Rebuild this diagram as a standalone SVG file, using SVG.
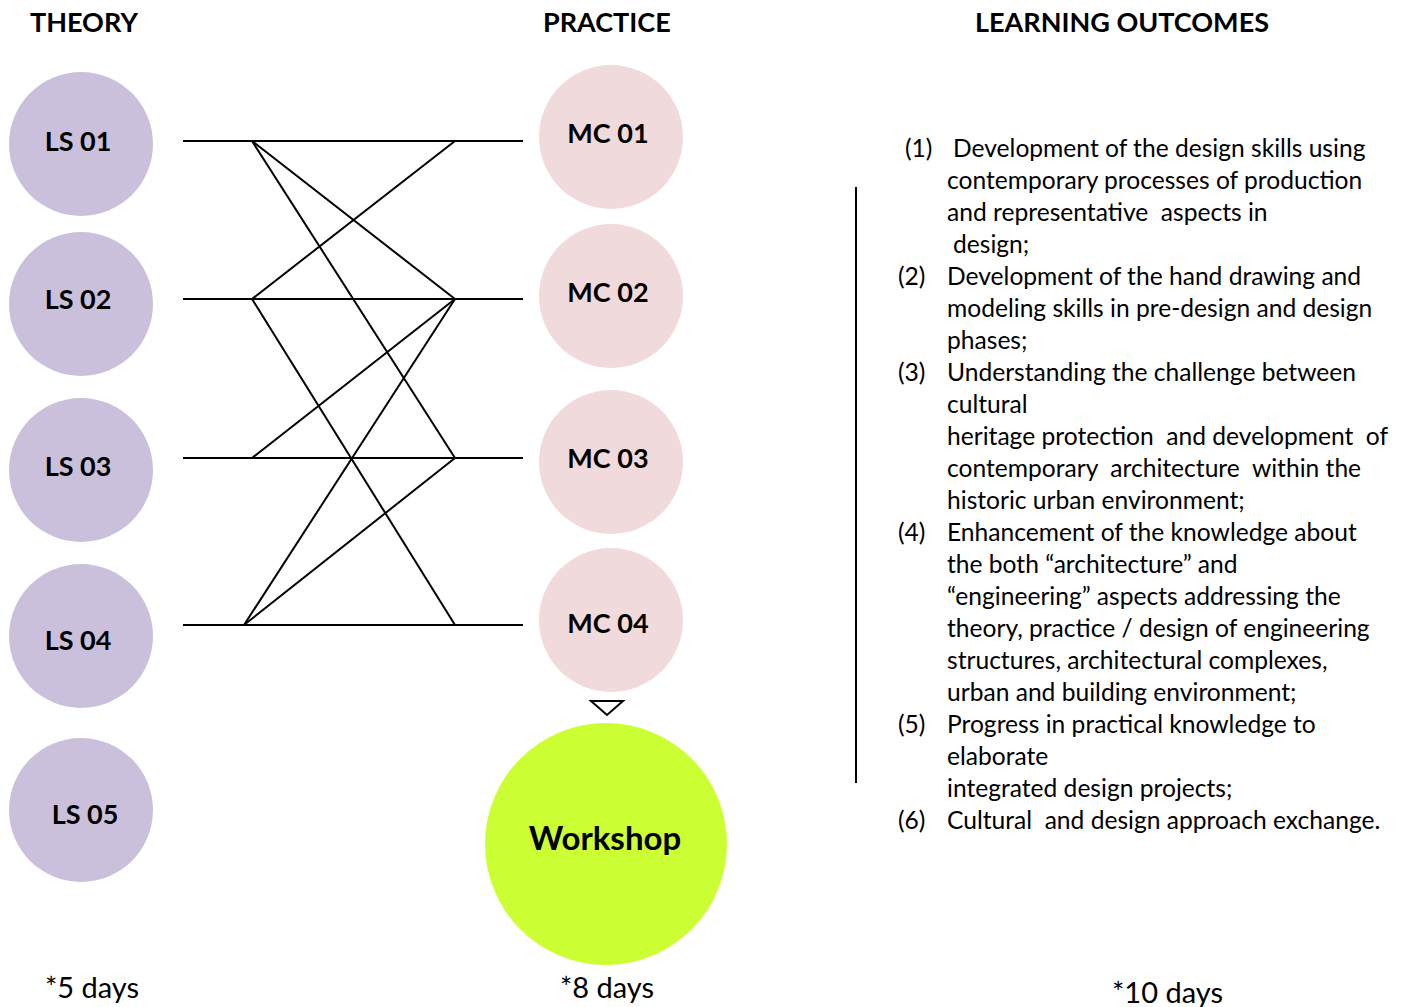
<svg xmlns="http://www.w3.org/2000/svg" width="1404" height="1007" viewBox="0 0 1404 1007">
<style>
.h{font-family:Lato,"Liberation Sans",sans-serif;font-weight:bold;font-size:27px;fill:#000}
.lbl{font-family:Lato,"Liberation Sans",sans-serif;font-weight:bold;font-size:27px;fill:#000;text-anchor:middle}
.ls{fill:#CBC0DB}
.mc{fill:#F0DADB}
.t{font-family:Lato,"Liberation Sans",sans-serif;font-size:24.6px;fill:#000}
.f{font-family:Lato,"Liberation Sans",sans-serif;font-size:29px;fill:#000}
.c line{stroke:#000;stroke-width:2}
</style>
<rect width="1404" height="1007" fill="#fff"/>
<text class="h" x="30" y="32">THEORY</text>
<text class="h" x="543" y="32">PRACTICE</text>
<text class="h" x="975" y="32">LEARNING OUTCOMES</text>

<g id="ls01"><circle class="ls" cx="81" cy="144" r="72"/><text class="lbl" x="78" y="151">LS 01</text></g>
<g id="ls02"><circle class="ls" cx="81" cy="304" r="72"/><text class="lbl" x="78" y="309">LS 02</text></g>
<g id="ls03"><circle class="ls" cx="81" cy="470" r="72"/><text class="lbl" x="78" y="476">LS 03</text></g>
<g id="ls04"><circle class="ls" cx="81" cy="636" r="72"/><text class="lbl" x="78" y="650">LS 04</text></g>
<g id="ls05"><circle class="ls" cx="81" cy="810" r="72"/><text class="lbl" x="85" y="824">LS 05</text></g>

<g id="mc01"><circle class="mc" cx="611" cy="137" r="72"/><text class="lbl" x="608" y="143">MC 01</text></g>
<g id="mc02"><circle class="mc" cx="611" cy="296" r="72"/><text class="lbl" x="608" y="302">MC 02</text></g>
<g id="mc03"><circle class="mc" cx="611" cy="462" r="72"/><text class="lbl" x="608" y="468">MC 03</text></g>
<g id="mc04"><circle class="mc" cx="611" cy="620" r="72"/><text class="lbl" x="608" y="633">MC 04</text></g>
<g id="workshop"><circle cx="606" cy="844" r="121" fill="#CCFF33"/><text class="lbl" x="605" y="850" style="font-size:33px">Workshop</text></g>
<g id="arrow"><polygon points="591,701 623,701 607,715" fill="#fff" stroke="#000" stroke-width="2"/></g>

<g class="c" id="connectors">
<line x1="183" y1="141" x2="523" y2="141"/>
<line x1="183" y1="299" x2="523" y2="299"/>
<line x1="183" y1="458" x2="523" y2="458"/>
<line x1="183" y1="625" x2="523" y2="625"/>
<line x1="252" y1="141" x2="455" y2="299"/>
<line x1="252" y1="141" x2="455" y2="458"/>
<line x1="455" y1="141" x2="252" y2="299"/>
<line x1="252" y1="299" x2="455" y2="625"/>
<line x1="455" y1="299" x2="252" y2="458"/>
<line x1="455" y1="299" x2="244" y2="625"/>
<line x1="455" y1="458" x2="244" y2="625"/>
<line x1="856" y1="187" x2="856" y2="783"/>
</g>

<g id="outcomes" class="t">
<text x="905" y="157">(1)</text><text x="953" y="157">Development of the design skills using</text>
<text x="947" y="189">contemporary processes of production</text>
<text x="947" y="221" xml:space="preserve">and representative  aspects in</text>
<text x="953" y="253">design;</text>
<text x="898" y="285">(2)</text><text x="947" y="285">Development of the hand drawing and</text>
<text x="947" y="317">modeling skills in pre-design and design</text>
<text x="947" y="349">phases;</text>
<text x="898" y="381">(3)</text><text x="947" y="381">Understanding the challenge between</text>
<text x="947" y="413">cultural</text>
<text x="947" y="445" xml:space="preserve">heritage protection  and development  of</text>
<text x="947" y="477" xml:space="preserve">contemporary  architecture  within the</text>
<text x="947" y="509">historic urban environment;</text>
<text x="898" y="541">(4)</text><text x="947" y="541">Enhancement of the knowledge about</text>
<text x="947" y="573">the both “architecture” and</text>
<text x="947" y="605">“engineering” aspects addressing the</text>
<text x="947" y="637">theory, practice / design of engineering</text>
<text x="947" y="669">structures, architectural complexes,</text>
<text x="947" y="701">urban and building environment;</text>
<text x="898" y="733">(5)</text><text x="947" y="733">Progress in practical knowledge to</text>
<text x="947" y="765">elaborate</text>
<text x="947" y="797">integrated design projects;</text>
<text x="898" y="829">(6)</text><text x="947" y="829" xml:space="preserve">Cultural  and design approach exchange.</text>
</g>

<text class="f" x="45" y="998">*5 days</text>
<text class="f" x="560" y="998">*8 days</text>
<text class="f" x="1112" y="1003">*10 days</text>
</svg>
